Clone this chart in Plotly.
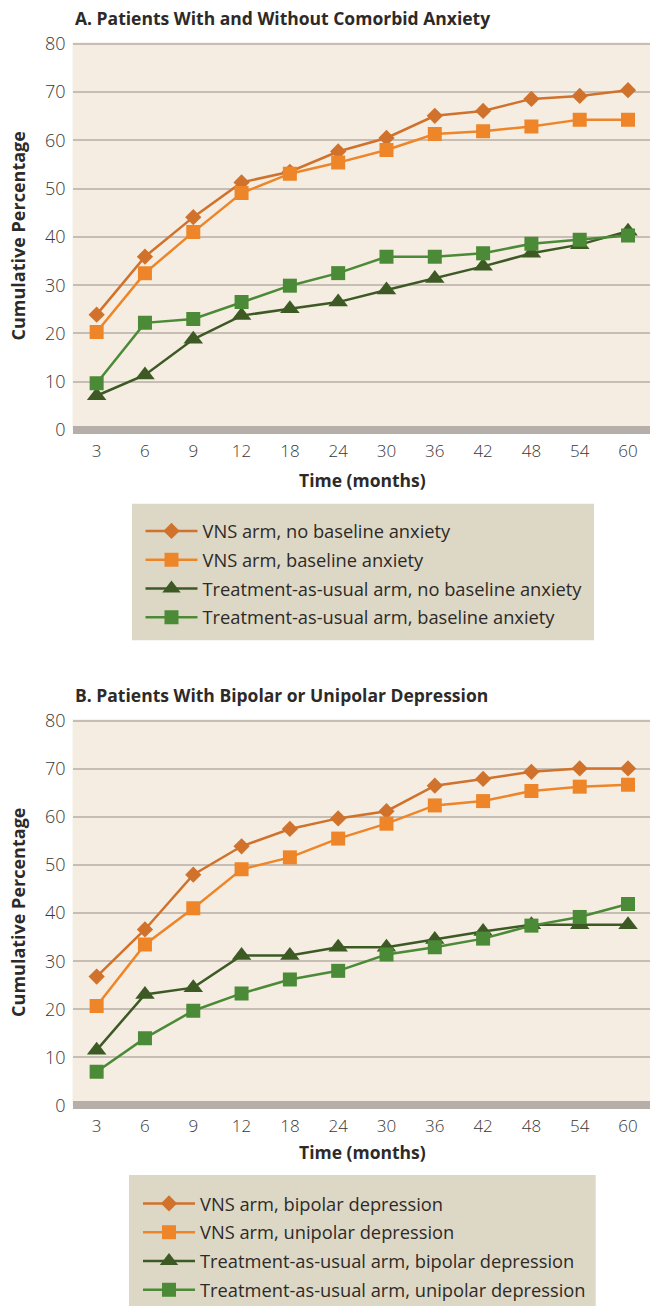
import plotly.graph_objects as go

months = ["3", "6", "9", "12", "18", "24", "30", "36", "42", "48", "54", "60"]

# Panel A
a_vns_no_anx = [23.9, 35.9, 44.1, 51.3, 53.5, 57.7, 60.5, 65.1, 66.1, 68.6, 69.2, 70.4]
a_vns_anx = [20.3, 32.5, 41.0, 49.1, 53.1, 55.4, 58.0, 61.3, 61.9, 62.9, 64.3, 64.3]
a_tau_no_anx = [7.1, 11.4, 18.8, 23.7, 25.1, 26.5, 29.0, 31.4, 33.9, 36.6, 38.4, 41.2]
a_tau_anx = [9.7, 22.2, 23.0, 26.5, 29.9, 32.5, 35.9, 35.9, 36.6, 38.6, 39.4, 40.3]

# Panel B
b_vns_bip = [26.8, 36.6, 48.0, 53.9, 57.5, 59.7, 61.2, 66.5, 67.9, 69.4, 70.1, 70.1]
b_vns_uni = [20.7, 33.5, 41.0, 49.1, 51.6, 55.5, 58.6, 62.4, 63.3, 65.4, 66.3, 66.7]
b_tau_bip = [11.5, 23.1, 24.5, 31.2, 31.2, 32.9, 32.9, 34.5, 36.2, 37.6, 37.6, 37.6]
b_tau_uni = [7.0, 14.0, 19.7, 23.3, 26.2, 28.0, 31.4, 32.9, 34.7, 37.4, 39.2, 41.9]

y_ticks = [0, 10, 20, 30, 40, 50, 60, 70, 80]

names_a = ["VNS arm, no baseline anxiety", "VNS arm, baseline anxiety",
           "Treatment-as-usual arm, no baseline anxiety", "Treatment-as-usual arm, baseline anxiety"]
names_b = ["VNS arm, bipolar depression", "VNS arm, unipolar depression",
           "Treatment-as-usual arm, bipolar depression", "Treatment-as-usual arm, unipolar depression"]

W, H = 650, 1309
C_DIAM = "#D0722C"
C_SQO = "#EE8528"
C_TRI = "#3D5A25"
C_SQG = "#4B8A36"
styles = [
    (C_DIAM, "diamond", 12.5),
    (C_SQO, "square", 14),
    (C_TRI, "triangle-up", 17),
    (C_SQG, "square", 14),
]

FONT = "Open Sans"
TXT = "#2d2a28"

fig = go.Figure()
for (series, names, xa, ya, leg, grp) in [
    ([a_vns_no_anx, a_vns_anx, a_tau_no_anx, a_tau_anx], names_a, "x", "y", "legend", "a"),
    ([b_vns_bip, b_vns_uni, b_tau_bip, b_tau_uni], names_b, "x2", "y2", "legend2", "b"),
]:
    for i, (vals, nm, (col, sym, sz)) in enumerate(zip(series, names, styles)):
        fig.add_trace(go.Scatter(
            x=months, y=vals, name=nm, mode="lines+markers",
            line=dict(color=col, width=2.5),
            marker=dict(symbol=sym, size=sz, color=col),
            xaxis=xa, yaxis=ya, legend=leg, legendgroup=f"{grp}{i}",
        ))

def py(p):
    return 1 - p / H

axis_common_x = dict(type="category", range=[-0.5, 11.455], showgrid=False,
                     showline=False, ticks="", zeroline=False, automargin=False,
                     tickfont=dict(family=FONT, size=17, color="#3a3735", weight=300),
                     ticklabelstandoff=9, fixedrange=True)
axis_common_y = dict(range=[0, 80.3], tickvals=y_ticks, showgrid=True,
                     gridcolor="#C6BDB5", gridwidth=1.5, zeroline=True,
                     zerolinecolor="#B6AFA9", zerolinewidth=7.5, showline=False,
                     automargin=False, ticks="", ticklabelstandoff=6,
                     tickfont=dict(family=FONT, size=18, color="#3a3735", weight=300),
                     fixedrange=True)

leg_common = dict(xanchor="left", yanchor="top", bgcolor="rgba(0,0,0,0)", borderwidth=0,
                  tracegroupgap=2, itemwidth=52,
                  font=dict(family=FONT, size=18.3, color=TXT))

BOX = "#DDD8C5"
shapes = [
    dict(type="rect", xref="paper", yref="paper", x0=132 / W, x1=594 / W,
         y0=py(641.7), y1=py(505), fillcolor=BOX, line=dict(width=0), layer="below"),
    dict(type="rect", xref="paper", yref="paper", x0=129 / W, x1=595.7 / W,
         y0=py(1309), y1=py(1177.7), fillcolor=BOX, line=dict(width=0), layer="below"),
]

fig.update_layout(
    width=W, height=H,
    margin=dict(l=0, r=0, t=0, b=0),
    paper_bgcolor="white",
    plot_bgcolor="#F5EDE1",
    xaxis=dict(domain=[72.5 / W, 1], anchor="y", **axis_common_x),
    yaxis=dict(domain=[py(431), py(42.5)], anchor="x", **axis_common_y),
    xaxis2=dict(domain=[72.5 / W, 1], anchor="y2", **axis_common_x),
    yaxis2=dict(domain=[py(1108), py(721)], anchor="x2", **axis_common_y),
    legend=dict(x=140.5 / W, y=py(513.7), **leg_common),
    legend2=dict(x=138 / W, y=py(1188), **leg_common),
    showlegend=True,
    shapes=shapes,
)

ann = []
for title, ty, ycen, xty in [
    ("A. Patients With and Without Comorbid Anxiety", 18, 237, 481),
    ("B. Patients With Bipolar or Unipolar Depression", 697, 915, 1155),
]:
    ann.append(dict(text="<b>" + title + "</b>", x=73 / W, y=py(ty), xref="paper", yref="paper",
                    xanchor="left", yanchor="middle", showarrow=False,
                    font=dict(family=FONT, size=17.5, color=TXT)))
    ann.append(dict(text="<b>Cumulative Percentage</b>", x=18 / W, y=py(ycen), xref="paper",
                    yref="paper", xanchor="center", yanchor="middle", textangle=-90,
                    showarrow=False, font=dict(family=FONT, size=18, color=TXT)))
    ann.append(dict(text="<b>Time (months)</b>", x=362 / W, y=py(xty), xref="paper",
                    yref="paper", xanchor="center", yanchor="middle", showarrow=False,
                    font=dict(family=FONT, size=17.5, color=TXT)))
fig.update_layout(annotations=ann)

fig.write_html("out.html")
